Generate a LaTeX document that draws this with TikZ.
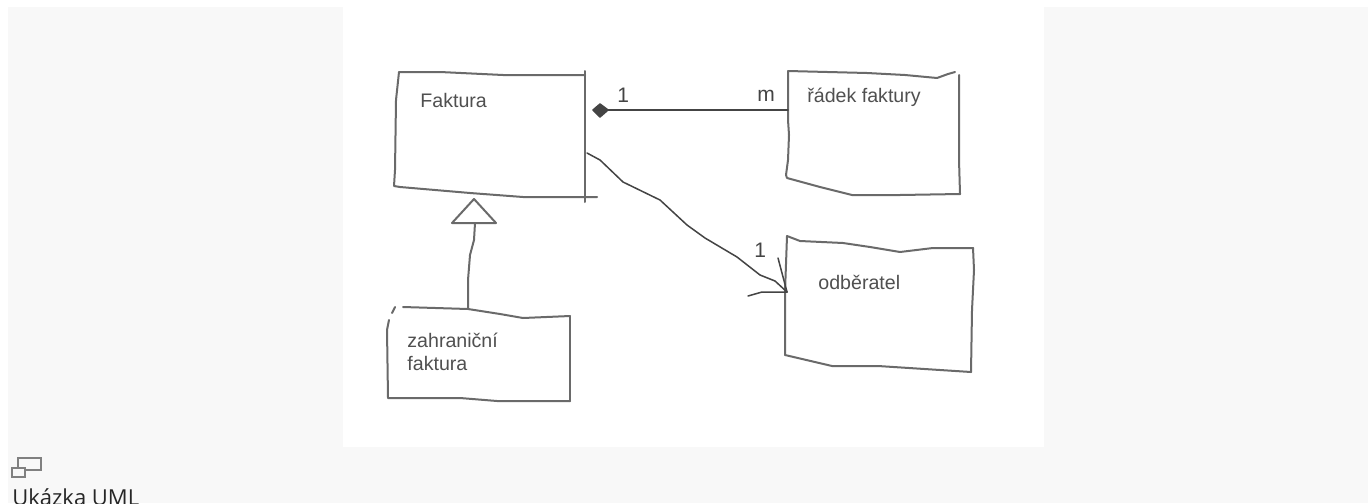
\documentclass[tikz,border=0pt]{standalone}
\usepackage{fontspec}
\setmainfont{Liberation Sans}
\newfontfamily\capfont{Open Sans}
\usetikzlibrary{positioning}
\definecolor{pagegray}{HTML}{F8F8F8}
\definecolor{pen}{HTML}{6A6A6A}
\definecolor{darkpen}{HTML}{444444}
\definecolor{ink}{HTML}{505050}

\begin{document}
\begin{tikzpicture}[x=0.5pt, y=-0.5pt,
                    hand/.style={draw=pen, line width=1pt, line join=round, line cap=round},
                    wire/.style={draw=darkpen, line width=0.75pt, line join=round, line cap=round},
                    cls/.style={font=\fontsize{9.8}{11.5}\selectfont, text=ink, inner sep=0pt, anchor=base west},
                    mult/.style={font=\fontsize{10.5}{12}\selectfont, text=darkpen, inner sep=0pt, anchor=base west}]
\useasboundingbox (0,0) rectangle (1368,503);
\fill[pagegray] (8,7) rectangle (1368,503);
\fill[white] (343,7) rectangle (1044,447);

% Faktura
\draw[hand] (399,72) -- (440,72) -- (503,75) -- (585,75);
\draw[hand] (585,71) -- (585,202);
\draw[hand] (399,72) -- (396,100) -- (395,170) -- (394,186) -- (400,187) -- (470,193) -- (523,197) -- (597,197);
\node[cls] (faktura) at (420,107) {Faktura};
\coordinate (fakR) at (593,110);
\coordinate (fakE) at (587,153);
\coordinate (fakB) at (474,199);

% radek faktury
\draw[hand] (788,71) -- (867,73) -- (905,75) -- (937,78) -- (948,74) -- (955,72);
\draw[hand] (959,75) -- (959,160) -- (960,194);
\draw[hand] (960,194) -- (900,195) -- (852,195) -- (820,187) -- (787,178) -- (786,175);
\draw[hand] (788,71) -- (788,120) -- (789,135) -- (788,160) -- (786,175);
\node[cls] (radek) at (807,102) {řádek faktury};
\coordinate (radL) at (788,110);

% odberatel
\draw[hand] (787,236) -- (800,241) -- (843,243) -- (870,247) -- (900,252) -- (933,248) -- (973,248);
\draw[hand] (973,248) -- (974,270) -- (972,310) -- (971,372);
\draw[hand] (971,372) -- (878,366) -- (832,366) -- (785,355);
\draw[hand] (785,355) -- (785,292) -- (787,236);
\node[cls] (odberatel) at (818,289) {odběratel};
\coordinate (odbW) at (787,292);

% zahranicni faktura
\draw[hand] (403,307) -- (468,309) -- (500,314) -- (523,318) -- (570,316);
\draw[hand] (570,316) -- (570,401);
\draw[hand] (570,401) -- (497,401) -- (460,398) -- (388,398) -- (387,330) -- (389,320);
\draw[hand] (392,313) -- (395,307);
\node[cls] (zahranicni) at (407,347) {zahraniční};
\node[cls] (zfaktura) at (407,370) {faktura};
\coordinate (zahrT) at (468,308);

% aggregation
\draw[wire] (fakR) ++(15,0) -- (radL);
\filldraw[wire, fill=darkpen] (fakR) -- ++(7,-6) -- ++(8,6) -- ++(-8,7) -- cycle;
\node[mult] (agg1) at (617,102) {1};
\node[mult] (aggm) at (757,101) {m};

% association
\draw[wire] (fakE) -- (600,160) -- (623,182) -- (660,200) -- (687,225) -- (705,238) -- (737,257) -- (760,275) -- (775,281) -- (odbW);
\draw[wire] (778,258) -- (odbW);
\draw[wire] (748,296) -- (762,292) -- (odbW);
\node[mult] (ass1) at (754,257) {1};

% generalization
\draw[hand] (fakB) -- (452,223) -- (496,223) -- cycle;
\draw[hand] (475,223) -- (474,240) -- (470,255) -- (468,280) -- (zahrT);

% caption
\draw[draw=gray, line width=0.75pt] (18,458) rectangle (41,470);
\filldraw[draw=gray, fill=pagegray, line width=0.75pt] (12,468) rectangle (25,477);
\node[font=\capfont\fontsize{11}{13}\selectfont, text=black!85, inner sep=0pt, anchor=base west] (caption) at (12,505) {Ukázka UML};
\end{tikzpicture}
\end{document}
